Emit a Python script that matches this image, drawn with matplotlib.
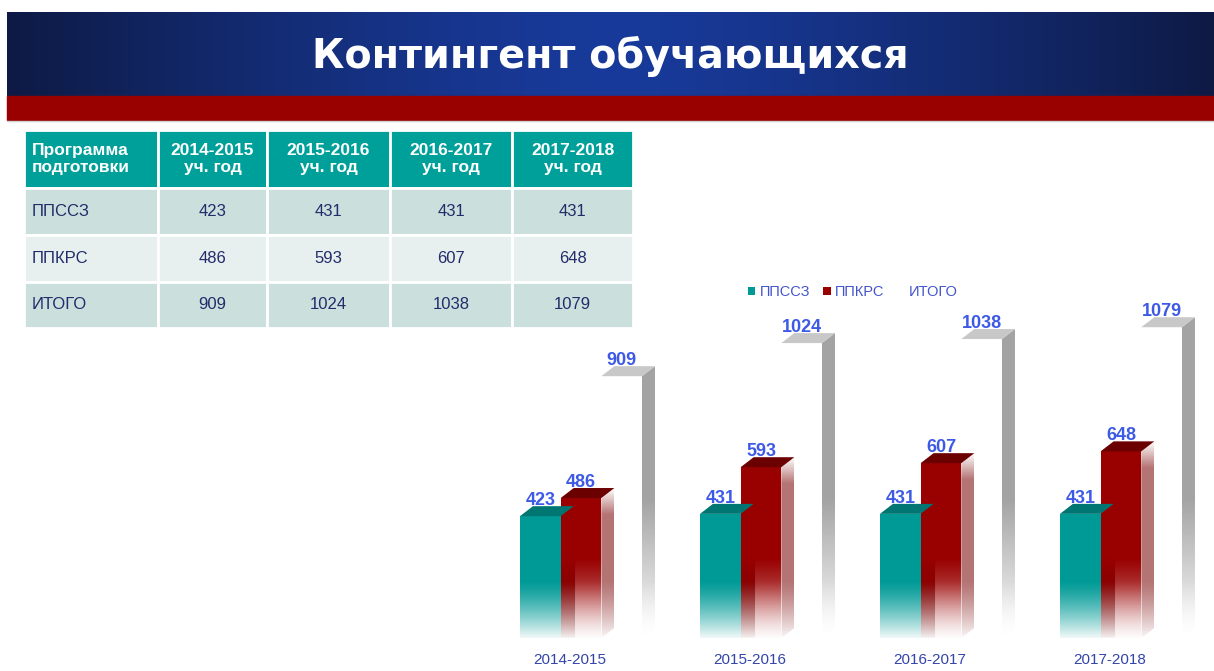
import matplotlib
matplotlib.use('Agg')
import matplotlib.pyplot as plt
import numpy as np
from matplotlib.patches import Polygon, Rectangle

# data
years = ['2014-2015', '2015-2016', '2016-2017', '2017-2018']
ppssz = [423, 431, 431, 431]
ppkrs = [486, 593, 607, 648]
itogo = [909, 1024, 1038, 1079]
series_names = ['ППССЗ', 'ППКРС', 'ИТОГО']
row_names = ['ППССЗ', 'ППКРС', 'ИТОГО']
table_header = ['Программа\nподготовки'] + [y + '\nуч. год' for y in years]
title = 'Контингент обучающихся'

W, H = 1214, 671
fig = plt.figure(figsize=(W / 100, H / 100), dpi=100)
fig.patch.set_facecolor('white')

# background axes in pixel coords (banner + table)
bg = fig.add_axes([0, 0, 1, 1])
t = np.abs(np.linspace(-1, 1, 400)) ** 1.4
navy = np.array([0x0e, 0x1a, 0x44]) / 255
blue = np.array([0x18, 0x3a, 0x9a]) / 255
img = blue[None, None, :] * (1 - t[None, :, None]) + navy[None, None, :] * t[None, :, None]
bg.imshow(img, extent=[7, W, 96, 12], aspect='auto', zorder=1)
bg.add_patch(Rectangle((7, 96), W - 7, 24, color='#990000', zorder=1))
bg.plot([7, W], [121, 121], color='#d0d0d0', lw=1, zorder=1)
bg.text(610, 56, title, color='white', fontsize=28.5, fontweight='bold',
        ha='center', va='center', family='DejaVu Sans', zorder=2)
bg.set_xlim(0, W)
bg.set_ylim(H, 0)
bg.axis('off')

# table
cell_text = [[name] + [str(v) for v in vals]
             for name, vals in zip(row_names, [ppssz, ppkrs, itogo])]
col_w = np.array([134, 109, 123, 122, 121], dtype=float)
tbl = bg.table(cellText=cell_text, colLabels=table_header,
               colWidths=list(col_w / col_w.sum()),
               bbox=[24 / W, 1 - 328 / H, 609 / W, 198 / H],
               cellLoc='center')
tbl.auto_set_font_size(False)
row_h = [58, 47, 47, 46]
row_fc = ['#00a09a', '#cbdfdd', '#e7f0ef', '#cbdfdd']
for (r, c), cell in tbl.get_celld().items():
    cell.set_edgecolor('white')
    cell.set_linewidth(2)
    cell.set_height(row_h[r] / H)
    cell.set_facecolor(row_fc[r])
    if r == 0:
        cell.set_text_props(color='white', fontweight='bold', fontsize=12.5,
                            family='Liberation Sans', linespacing=1.2)
    else:
        cell.set_text_props(color='#222c6a', fontsize=12, family='Liberation Sans')
    if c == 0:
        cell.PAD = 0.06
        cell.set_text_props(ha='left')

# chart axes
ax = fig.add_axes([500 / W, 33 / H, 714 / W, 358 / H])
xmin, xmax, ymax = -0.45, 3.517, 1243
x = np.arange(len(years))
w = 0.226
b1 = ax.bar(x - w, ppssz, w, color='#009a96', label=series_names[0], zorder=3)
b2 = ax.bar(x, ppkrs, w, color='#990000', label=series_names[1], zorder=3)
b3 = ax.bar(x + w, itogo, w, color='white', label=series_names[2], zorder=1)

# depth of the 3d faces (13 px right, 10 px up)
dx = 13 / (714 / (xmax - xmin))
dy = 10 / (358 / ymax)

n = 200
grad_y = np.linspace(0, 1, n)


def gradient_image(rgb, alpha):
    arr = np.ones((n, 1, 4))
    arr[..., :3] = rgb
    arr[:, 0, 3] = alpha
    return arr


for bars, top_c, side_rgb in [(b1, '#007673', (0, 0.46, 0.45)),
                              (b2, '#6a0000', (0.66, 0.36, 0.36)),
                              (b3, '#c8c8c8', (0.64, 0.64, 0.64))]:
    for rect in bars:
        x0 = rect.get_x()
        bw = rect.get_width()
        x1 = x0 + bw
        v = rect.get_height()
        ax.add_patch(Polygon([(x0, v), (x1, v), (x1 + dx, v + dy), (x0 + dx, v + dy)],
                             closed=True, color=top_c, lw=0, zorder=4))
        side = Polygon([(x1, 0), (x1, v), (x1 + dx, v + dy), (x1 + dx, dy)],
                       closed=True, facecolor='none', lw=0, zorder=2)
        ax.add_patch(side)
        vals = grad_y * (v + dy)
        if bars is b3:
            alpha = np.clip(vals / 480, 0, 1)
        elif bars is b2:
            # blurry shadow that starts a little below the top
            alpha = 0.85 * np.clip((v + dy - vals) / 90, 0, 1)
        else:
            alpha = np.ones(n)
        im = ax.imshow(gradient_image(side_rgb, alpha), extent=[x1, x1 + dx, 0, v + dy],
                       aspect='auto', origin='lower', zorder=2)
        im.set_clip_path(side)
        if bars is b2:
            # dark left strip and pink fade on the lower part of the red front
            low = np.linspace(0, 280, n)
            ax.imshow(gradient_image((0.2, 0.05, 0.05), 0.45 * (1 - low / 280)),
                      extent=[x0, x0 + 0.35 * bw, 0, 280], aspect='auto',
                      origin='lower', zorder=3.5)
            ax.imshow(gradient_image((1, 1, 1), 0.75 * (1 - low / 280) ** 1.2),
                      extent=[x0 + 0.35 * bw, x1, 0, 280], aspect='auto',
                      origin='lower', zorder=3.5)
        ax.annotate(str(int(v)), (x0 + bw / 2, v), xytext=(0, 7),
                    textcoords='offset pixels', ha='center', va='bottom',
                    color='#3d5ae6', fontsize=13, fontweight='bold',
                    family='Liberation Sans', zorder=6)

# white fade towards the floor
ax.imshow(gradient_image((1, 1, 1), 0.95 * (1 - grad_y) ** 1.3),
          extent=[xmin, xmax, 0, 200], aspect='auto', origin='lower', zorder=5)

ax.set_xlim(xmin, xmax)
ax.set_ylim(0, ymax)
ax.set_xticks(x - 0.06, years)
ax.tick_params(axis='x', length=0, pad=11, labelsize=11, labelcolor='#3344aa')
for lab in ax.get_xticklabels():
    lab.set_family('Liberation Sans')
ax.set_yticks([])
for s in ax.spines.values():
    s.set_visible(False)
ax.patch.set_alpha(0)

fig.legend(handles=[b1, b2, b3], labels=series_names, loc='center',
           bbox_to_anchor=(853 / W, 1 - 292 / H), ncol=3, frameon=False,
           handlelength=0.5, handleheight=0.5, handletextpad=0.3,
           columnspacing=0.9, labelcolor='#4455cc',
           prop={'family': 'Liberation Sans', 'size': 10.5})

fig.savefig('out.png', dpi=100)
